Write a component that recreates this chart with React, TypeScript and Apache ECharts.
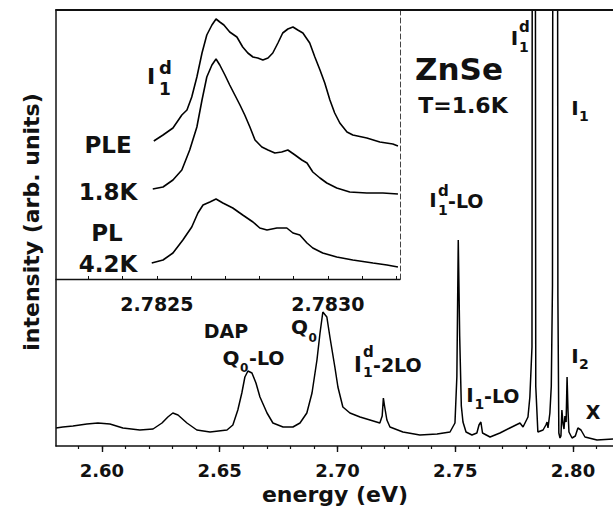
import React, { useEffect, useRef } from "react";
import * as echarts from "echarts";

// ---------- main spectrum (energy in eV, intensity in arb. units) ----------
const specEnergy = [
  2.5805, 2.5834, 2.5877, 2.5936, 2.5983, 2.6034, 2.6089, 2.6161, 2.6217, 2.6255,
  2.628, 2.6301, 2.6323, 2.6361, 2.6403, 2.6459, 2.6531, 2.6556, 2.6577, 2.6594,
  2.6607, 2.662, 2.6637, 2.6654, 2.6671, 2.6701, 2.6726, 2.6769, 2.6811, 2.6841,
  2.687, 2.6892, 2.6913, 2.6926, 2.6938, 2.6955, 2.6968, 2.6989, 2.7002, 2.7023,
  2.7053, 2.7096, 2.7138, 2.718, 2.719, 2.7195, 2.72, 2.721, 2.7223, 2.7278,
  2.735, 2.7423, 2.7478, 2.7499, 2.7507, 2.7513, 2.7519, 2.7526, 2.7533, 2.7546,
  2.7571, 2.7592, 2.7601, 2.7609, 2.7616, 2.7648, 2.769, 2.7732, 2.7775, 2.7788,
  2.7809, 2.7817, 2.7826, 2.7829, 2.7838, 2.7842, 2.7851, 2.7873, 2.7885, 2.789,
  2.7894, 2.7902, 2.7908, 2.7913, 2.7917, 2.7932, 2.7936, 2.794, 2.7945, 2.7949,
  2.7953, 2.7958, 2.7962, 2.7966, 2.7971, 2.7975, 2.7979, 2.7983, 2.7996, 2.801,
  2.8021, 2.8034, 2.8051, 2.8102, 2.817,
];
const specIntensity = [
  18, 19, 20, 22, 23, 22, 18, 16, 17, 23,
  29, 33, 31, 23, 16, 14, 16, 21, 36, 53,
  69, 75, 73, 63, 49, 33, 23, 19, 19, 23,
  33, 53, 86, 113, 134, 129, 109, 79, 59, 39,
  33, 29, 26, 23, 30, 48, 40, 26, 19, 14,
  11, 12, 14, 23, 69, 206, 110, 40, 24, 14,
  11, 13, 21, 24, 13, 9, 13, 18, 23, 19,
  29, 49, 99, 1200, 1200, 60, 14, 16, 21, 24,
  18, 33, 60, 160, 1200, 1200, 150, 13, 8, 10,
  36, 22, 17, 30, 24, 69, 35, 14, 8, 10,
  18, 16, 9, 6, 7,
];

// ---------- inset: I1d line, three spectra ----------
const pleEnergy = [
  2.782491, 2.782518, 2.782547, 2.782573, 2.782588, 2.782602, 2.782617, 2.782632, 2.782646, 2.782661,
  2.782673, 2.782684, 2.782696, 2.782713, 2.782734, 2.782751, 2.782766, 2.782781, 2.782795, 2.78281,
  2.782825, 2.782839, 2.782854, 2.782868, 2.782883, 2.782898, 2.782912, 2.782927, 2.782947, 2.782962,
  2.782977, 2.782991, 2.783006, 2.78302, 2.783035, 2.783056, 2.783073, 2.783114, 2.783152, 2.78319,
  2.783205,
];
const pleIntensity = [
  138, 144, 151, 164, 169, 182, 202, 226, 244, 254,
  260, 257, 254, 247, 242, 232, 226, 222, 221, 219,
  221, 226, 236, 246, 250, 252, 249, 246, 236, 222,
  209, 196, 179, 166, 156, 147, 144, 141, 137, 135,
  133,
];
const pl18Energy = [
  2.782488, 2.782518, 2.782547, 2.782573, 2.782596, 2.782617, 2.782632, 2.782646, 2.782661, 2.782673,
  2.782684, 2.782699, 2.782713, 2.782728, 2.782743, 2.782757, 2.782772, 2.782787, 2.782807, 2.782825,
  2.782845, 2.782865, 2.782883, 2.782904, 2.782924, 2.782939, 2.782956, 2.782977, 2.782997, 2.783026,
  2.783064, 2.783114, 2.783161, 2.783205,
];
const pl18Intensity = [
  90, 92, 99, 109, 129, 152, 179, 202, 214, 220,
  214, 204, 194, 184, 174, 164, 152, 139, 132, 129,
  126, 127, 129, 124, 119, 116, 107, 101, 96, 91,
  87, 86, 86, 85,
];
const pl42Energy = [
  2.782485, 2.782518, 2.782547, 2.782576, 2.782602, 2.78262, 2.782635, 2.782655, 2.782673, 2.782693,
  2.782722, 2.782751, 2.782781, 2.782801, 2.782822, 2.782851, 2.78288, 2.782898, 2.782918, 2.782939,
  2.782956, 2.782985, 2.783026, 2.783073, 2.783132, 2.783173, 2.783205,
];
const pl42Intensity = [
  16, 19, 26, 39, 52, 66, 74, 77, 80, 76,
  71, 64, 57, 51, 49, 51, 51, 46, 44, 36,
  31, 26, 22, 19, 16, 14, 12,
];

// ---------- ticks ----------
const majorTicks = [2.6, 2.65, 2.7, 2.75, 2.8];
const minorTicks = [
  2.59, 2.6, 2.61, 2.62, 2.63, 2.64, 2.65, 2.66, 2.67, 2.68, 2.69, 2.7,
  2.71, 2.72, 2.73, 2.74, 2.75, 2.76, 2.77, 2.78, 2.79, 2.8, 2.81,
];
const insetTicks = [2.7823, 2.7824, 2.7825, 2.7826, 2.7827, 2.7828, 2.7829, 2.783, 2.7831, 2.7832];
const insetLabels = [2.7825, 2.783];

const FONT = "DejaVu Sans";
const INK = "#111";

const zip = (xs: number[], ys: number[]) => xs.map((x, i) => [x, ys[i]]);

function txt(text: string, x: number, y: number, size: number, align: string = "center", extra: any = {}) {
  return {
    type: "text",
    x,
    y,
    z: 20,
    silent: true,
    ...extra,
    style: {
      text,
      fontSize: size,
      fontFamily: FONT,
      fontWeight: "bold",
      fill: INK,
      align,
      verticalAlign: "middle",
      textAlign: align,
      textVerticalAlign: "middle",
    },
  };
}

function buildOption(): any {
  const axisLineStyle = { color: INK, width: 1.5 };
  const lineSeries = (data: number[][], xi: number, yi: number, w: number) => ({
    type: "line",
    xAxisIndex: xi,
    yAxisIndex: yi,
    data,
    symbol: "none",
    showSymbol: false,
    clip: true,
    lineStyle: { color: "#000", width: w },
    z: 5,
  });

  return {
    animation: false,
    backgroundColor: "#fff",
    grid: [
      { left: 56, top: 10, right: 0, bottom: 64, show: false },
      { left: 56, top: 10, width: 344, height: 269, show: true, backgroundColor: "#fff", borderWidth: 0, z: 0 },
    ],
    xAxis: [
      {
        type: "value", gridIndex: 0, min: 2.5805, max: 2.817, position: "bottom", z: 10,
        axisLine: { show: true, onZero: false, lineStyle: axisLineStyle },
        axisTick: { show: true, inside: false, length: 3, customValues: minorTicks, lineStyle: { color: INK, width: 1.2 } },
        axisLabel: { show: false },
        splitLine: { show: false },
      },
      {
        type: "value", gridIndex: 0, min: 2.5805, max: 2.817, position: "bottom", z: 10,
        axisLine: { show: false, onZero: false },
        axisTick: { show: true, inside: false, length: 6, customValues: majorTicks, lineStyle: { color: INK, width: 1.4 } },
        axisLabel: {
          show: true, customValues: majorTicks, margin: 15,
          formatter: (v: number) => v.toFixed(2),
          fontFamily: FONT, fontWeight: "bold", fontSize: 18, color: INK,
        },
        splitLine: { show: false },
      },
      {
        type: "value", gridIndex: 0, min: 2.5805, max: 2.817, position: "top", z: 10,
        axisLine: { show: true, onZero: false, lineStyle: { color: INK, width: 1.8 } },
        axisTick: { show: false }, axisLabel: { show: false }, splitLine: { show: false },
      },
      {
        type: "value", gridIndex: 1, min: 2.782205, max: 2.783211, position: "bottom", z: 10,
        axisLine: { show: true, onZero: false, lineStyle: { color: INK, width: 1.3 } },
        axisTick: { show: true, inside: true, length: 3, customValues: insetTicks, lineStyle: { color: INK, width: 1 } },
        axisLabel: {
          show: true, customValues: insetLabels, margin: 15,
          formatter: (v: number) => v.toFixed(4),
          fontFamily: FONT, fontWeight: "bold", fontSize: 19, color: INK,
        },
        splitLine: { show: false },
      },
    ],
    yAxis: [
      {
        type: "value", gridIndex: 0, min: 0, max: 436, position: "left", z: 10,
        axisLine: { show: true, onZero: false, lineStyle: axisLineStyle },
        axisTick: { show: false }, axisLabel: { show: false }, splitLine: { show: false },
      },
      {
        type: "value", gridIndex: 1, min: 0, max: 269, position: "right", z: 10,
        axisLine: { show: true, onZero: false, lineStyle: { color: "#444", width: 1, type: [5, 3] } },
        axisTick: { show: false }, axisLabel: { show: false }, splitLine: { show: false },
      },
    ],
    series: [
      lineSeries(zip(specEnergy, specIntensity), 0, 0, 1.5),
      lineSeries(zip(pleEnergy, pleIntensity), 3, 1, 1.6),
      lineSeries(zip(pl18Energy, pl18Intensity), 3, 1, 1.6),
      lineSeries(zip(pl42Energy, pl42Intensity), 3, 1, 1.6),
    ],
    graphic: [
      // axis titles
      txt("energy (eV)", 335, 494, 22),
      txt("intensity (arb. units)", 31, 222, 22, "center", { rotation: Math.PI / 2 }),
      // sample labels
      txt("ZnSe", 459, 69, 31),
      txt("T=1.6K", 463, 105, 22),
      // inset labels
      txt("I", 151, 76, 22),
      txt("d", 159, 67, 18, "left"),
      txt("1", 159, 89, 17, "left"),
      txt("PLE", 108, 145, 23),
      txt("1.8K", 108, 192, 23),
      txt("PL", 107, 233, 23),
      txt("4.2K", 108, 264, 23),
      // peak labels
      txt("DAP", 226, 331, 19),
      txt("Q", 231, 358, 20),
      txt("0", 240, 368, 12, "left"),
      txt("-LO", 249, 358, 19, "left"),
      txt("Q", 299.5, 327, 20),
      txt("0", 308.5, 338, 12, "left"),
      txt("I", 358, 365, 21),
      txt("d", 363, 352, 15, "left"),
      txt("1", 363, 372, 14, "left"),
      txt("-2LO", 373, 365, 19, "left"),
      txt("I", 433, 200, 20),
      txt("d", 438, 191, 15, "left"),
      txt("1", 438, 210, 14, "left"),
      txt("-LO", 448, 201, 19, "left"),
      txt("I", 470, 395, 20),
      txt("1", 474.5, 404, 14, "left"),
      txt("-LO", 484, 396, 19, "left"),
      txt("I", 514.5, 37.5, 20),
      txt("d", 519, 27, 15, "left"),
      txt("1", 519, 47, 14, "left"),
      txt("I", 575, 107.5, 20),
      txt("1", 579, 116, 14, "left"),
      txt("I", 575, 355.5, 20),
      txt("2", 579, 364, 14, "left"),
      txt("X", 593, 411.5, 19),
    ],
  };
}

export default function App() {
  const ref = useRef<HTMLDivElement>(null);
  useEffect(() => {
    document.body.style.margin = "0";
    if (!ref.current) return;
    const chart = echarts.init(ref.current, null, { renderer: "svg" });
    chart.setOption(buildOption());
    return () => {
      chart.dispose();
    };
  }, []);
  return <div ref={ref} style={{ width: 613, height: 510, background: "#fff" }} />;
}
